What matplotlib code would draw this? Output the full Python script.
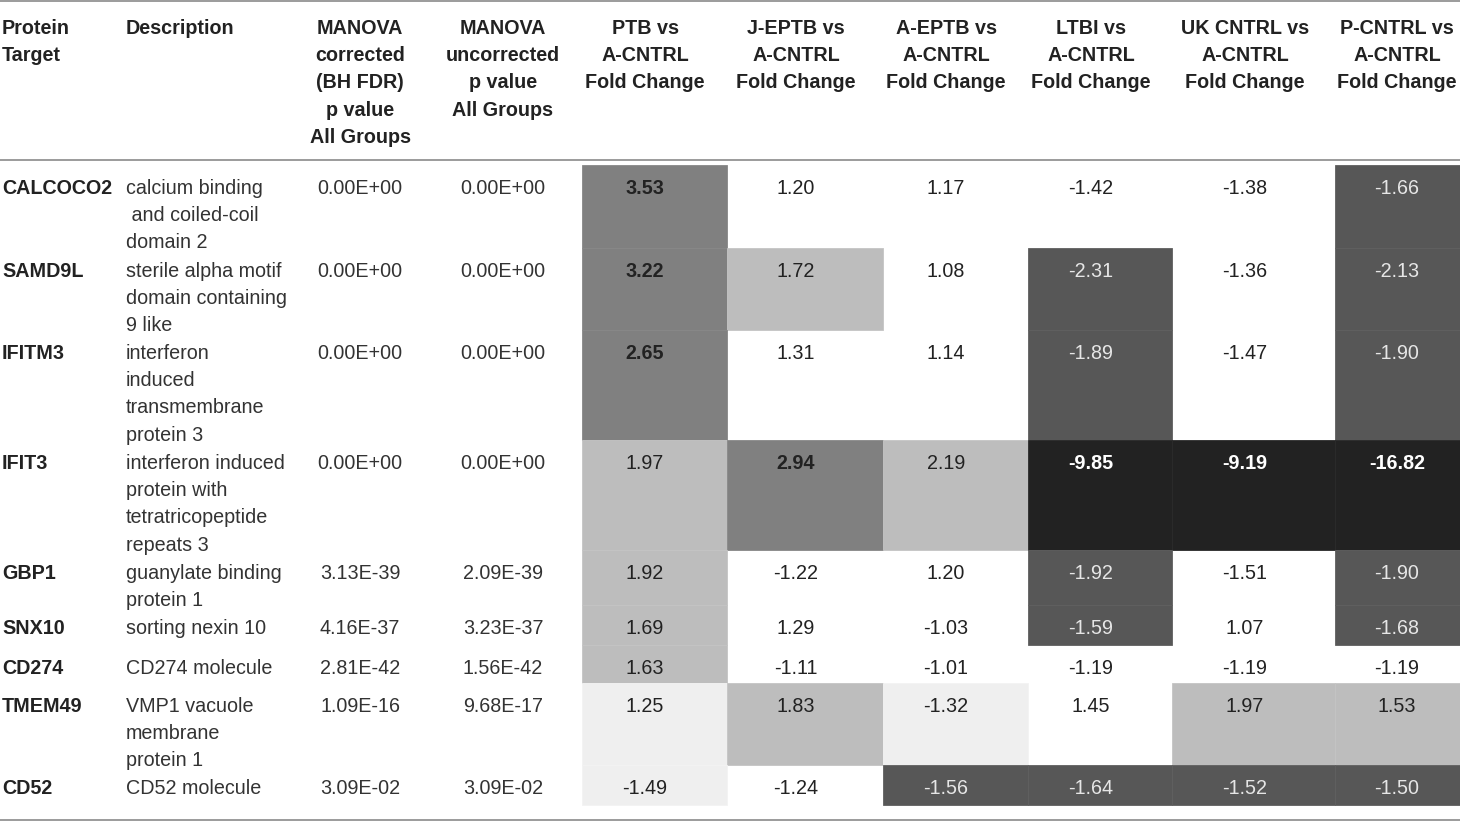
import matplotlib
matplotlib.use('Agg')
import matplotlib.pyplot as plt
from matplotlib.patches import Rectangle

plt.rcParams['font.family'] = ['Liberation Sans', 'DejaVu Sans']

# ---- table content ----
headers = [
    'Protein\nTarget',
    'Description',
    'MANOVA\ncorrected\n(BH FDR)\np value\nAll Groups',
    'MANOVA\nuncorrected\np value\nAll Groups',
    'PTB vs\nA-CNTRL\nFold Change',
    'J-EPTB vs\nA-CNTRL\nFold Change',
    'A-EPTB vs\nA-CNTRL\nFold Change',
    'LTBI vs\nA-CNTRL\nFold Change',
    'UK CNTRL vs\nA-CNTRL\nFold Change',
    'P-CNTRL vs\nA-CNTRL\nFold Change',
]

proteins = ['CALCOCO2', 'SAMD9L', 'IFITM3', 'IFIT3', 'GBP1', 'SNX10',
            'CD274', 'TMEM49', 'CD52']

descriptions = [
    'calcium binding\n and coiled-coil\ndomain 2',
    'sterile alpha motif\ndomain containing\n9 like',
    'interferon\ninduced\ntransmembrane\nprotein 3',
    'interferon induced\nprotein with\ntetratricopeptide\nrepeats 3',
    'guanylate binding\nprotein 1',
    'sorting nexin 10',
    'CD274 molecule',
    'VMP1 vacuole\nmembrane\nprotein 1',
    'CD52 molecule',
]

p_corrected = ['0.00E+00', '0.00E+00', '0.00E+00', '0.00E+00', '3.13E-39',
               '4.16E-37', '2.81E-42', '1.09E-16', '3.09E-02']
p_uncorrected = ['0.00E+00', '0.00E+00', '0.00E+00', '0.00E+00', '2.09E-39',
                 '3.23E-37', '1.56E-42', '9.68E-17', '3.09E-02']

# fold changes: PTB, J-EPTB, A-EPTB, LTBI, UK CNTRL, P-CNTRL
fold_changes = [
    [3.53, 1.20, 1.17, -1.42, -1.38, -1.66],
    [3.22, 1.72, 1.08, -2.31, -1.36, -2.13],
    [2.65, 1.31, 1.14, -1.89, -1.47, -1.90],
    [1.97, 2.94, 2.19, -9.85, -9.19, -16.82],
    [1.92, -1.22, 1.20, -1.92, -1.51, -1.90],
    [1.69, 1.29, -1.03, -1.59, 1.07, -1.68],
    [1.63, -1.11, -1.01, -1.19, -1.19, -1.19],
    [1.25, 1.83, -1.32, 1.45, 1.97, 1.53],
    [-1.49, -1.24, -1.56, -1.64, -1.52, -1.50],
]

# shading level of each fold-change cell as printed (0 = no fill)
shade_levels = [
    [3, 0, 0, 0, 0, 4],
    [3, 2, 0, 4, 0, 4],
    [3, 0, 0, 4, 0, 4],
    [2, 3, 2, 5, 5, 5],
    [2, 0, 0, 4, 0, 4],
    [2, 0, 0, 4, 0, 4],
    [2, 0, 0, 0, 0, 0],
    [1, 2, 1, 0, 2, 2],
    [1, 0, 4, 4, 4, 4],
]

# ---- layout (pixels) ----
W, H = 1460, 822
fill_colors = {0: None, 1: '#efefef', 2: '#bdbdbd', 3: '#808080',
               4: '#575757', 5: '#222222'}
edge_colors = {1: '#f3f3f3', 2: '#c4c4c4', 3: '#888888',
               4: '#5f5f5f', 5: '#2a2a2a'}
text_colors = {0: '#222222', 1: '#222222', 2: '#222222', 3: '#222222',
               4: '#e6e6e6', 5: '#ffffff'}
bold_levels = {3, 5}

col_x = [2, 126, 360, 503, 645, 796, 946, 1091, 1245, 1397]
col_align = ['left', 'left'] + ['center'] * 8
fc_edges = [582, 727, 883, 1028, 1172, 1335, 1460]
row_tops = [165, 248, 330, 440, 550, 605, 645, 683, 765, 805]
line_h = 27.4
fs = 14.2

fig = plt.figure(figsize=(W / 100, H / 100), dpi=100)
ax = fig.add_axes([0, 0, 1, 1])
ax.set_xlim(0, W)
ax.set_ylim(H, 0)
ax.axis('off')


def put(x, y, s, ha, **kw):
    for i, line in enumerate(s.split('\n')):
        ax.text(x, y + i * line_h, line, ha=ha, va='center', fontsize=fs, **kw)


# rules
ax.plot([0, W], [1.5, 1.5], color='#8a8a8a', lw=1.2)
ax.plot([0, W], [160, 160], color='#8a8a8a', lw=1.2)
ax.plot([0, W], [820, 820], color='#8a8a8a', lw=1.2)

# header
for j, h in enumerate(headers):
    put(col_x[j], 28, h, col_align[j], fontweight='bold', color='#222222')

# body
for i, prot in enumerate(proteins):
    top, bot = row_tops[i], row_tops[i + 1]
    y0 = top + 23
    put(col_x[0], y0, prot, 'left', fontweight='bold', color='#222222')
    put(col_x[1], y0, descriptions[i], 'left', color='#333333')
    put(col_x[2], y0, p_corrected[i], 'center', color='#333333')
    put(col_x[3], y0, p_uncorrected[i], 'center', color='#333333')
    for k, val in enumerate(fold_changes[i]):
        lvl = shade_levels[i][k]
        if fill_colors[lvl]:
            ax.add_patch(Rectangle((fc_edges[k], top), fc_edges[k + 1] - fc_edges[k],
                                   bot - top, facecolor=fill_colors[lvl],
                                   edgecolor=edge_colors[lvl], lw=0.6, zorder=0))
        put(col_x[4 + k], y0, f'{val:.2f}', 'center', color=text_colors[lvl],
            fontweight='bold' if lvl in bold_levels else 'normal')

fig.savefig('out.png', dpi=100)
